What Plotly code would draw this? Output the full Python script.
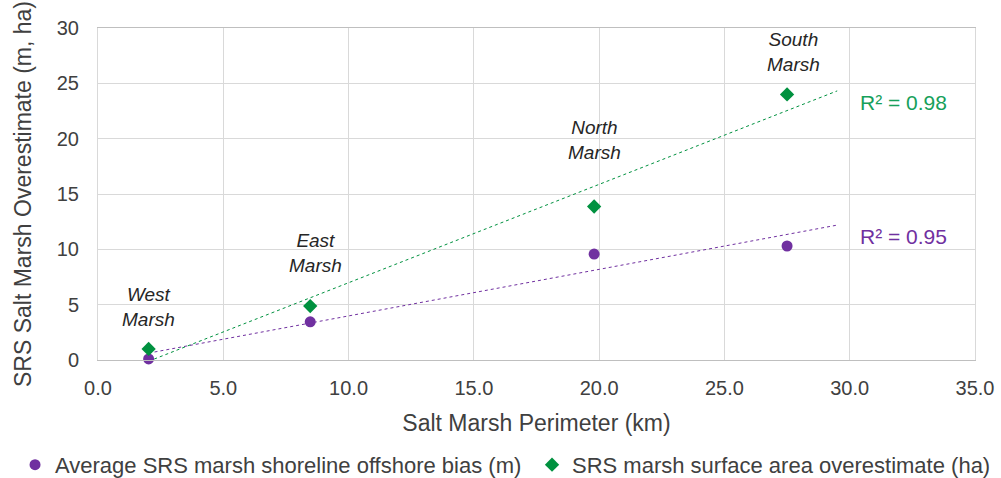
import numpy as np
import plotly.graph_objects as go

# Data
marsh_names = ["West<br>Marsh", "East<br>Marsh", "North<br>Marsh", "South<br>Marsh"]
perimeter_km = [2.02, 8.47, 19.8, 27.5]
shoreline_bias_m = [0.1, 3.45, 9.57, 10.3]
area_overestimate_ha = [1.0, 4.87, 13.87, 24.0]
r2_labels = ["R² = 0.95", "R² = 0.98"]
x_ticks = [0, 5, 10, 15, 20, 25, 30, 35]
y_ticks = [0, 5, 10, 15, 20, 25, 30]

PURPLE = "#7030A0"
GREEN = "#00913F"
GREEN_TXT = "#16A05A"
FONT = "Liberation Sans, Arial, sans-serif"
TXT = "#404040"

fig = go.Figure()

# trendlines (linear least squares, forward forecast to 29.5)
x_end = 29.5
for ys, col in [(shoreline_bias_m, PURPLE), (area_overestimate_ha, GREEN)]:
    m, b = np.polyfit(perimeter_km, ys, 1)
    xs = np.linspace(min(perimeter_km), x_end, 50)
    fig.add_trace(go.Scatter(x=xs, y=m * xs + b, mode="lines",
                             line=dict(color=col, width=1, dash="dot"),
                             showlegend=False, hoverinfo="skip", cliponaxis=True))

fig.add_trace(go.Scatter(x=perimeter_km, y=shoreline_bias_m, mode="markers",
                         name="Average SRS marsh shoreline offshore bias (m)",
                         marker=dict(symbol="circle", size=11, color=PURPLE),
                         cliponaxis=False, legend="legend"))
fig.add_trace(go.Scatter(x=perimeter_km, y=area_overestimate_ha, mode="markers",
                         name="SRS marsh surface area overestimate (ha)",
                         marker=dict(symbol="diamond", size=11, color=GREEN),
                         cliponaxis=False, legend="legend2"))

# marsh labels
label_y = [4.8, 9.7, 19.9, 27.8]
label_dx = [0, 5, 0, 6]
for name, x, y, dx in zip(marsh_names, perimeter_km, label_y, label_dx):
    fig.add_annotation(x=x, y=y, text=f"<i>{name}</i>", showarrow=False, xshift=dx,
                       font=dict(family=FONT, size=19, color="#262626"),
                       xanchor="center", yanchor="middle")

fig.add_annotation(x=30.35, y=11.2, text=r2_labels[0], showarrow=False, xanchor="left",
                   font=dict(family=FONT, size=21, color=PURPLE))
fig.add_annotation(x=30.35, y=23.3, text=r2_labels[1], showarrow=False, xanchor="left",
                   font=dict(family=FONT, size=21, color=GREEN_TXT))

leg_common = dict(orientation="h", y=-0.316, yanchor="middle", xanchor="left",
                  font=dict(family=FONT, size=22, color=TXT), itemwidth=30,
                  bgcolor="rgba(0,0,0,0)")

fig.update_layout(
    width=1001, height=478,
    margin=dict(l=98, r=26, t=28, b=118, autoexpand=False),
    paper_bgcolor="white", plot_bgcolor="white",
    font=dict(family=FONT, color=TXT),
    showlegend=True,
    legend=dict(x=-0.0946, **leg_common),
    legend2=dict(x=0.4949, **leg_common),
    xaxis=dict(range=[0, 35], tickvals=x_ticks, ticktext=[f"{v:.1f}" for v in x_ticks],
               showgrid=True, gridcolor="#D9D9D9", gridwidth=1,
               showline=True, linecolor="#BFBFBF", linewidth=1, mirror=True,
               zeroline=False, ticks="", ticklabelstandoff=10,
               tickfont=dict(size=20, color=TXT),
               title=dict(text="Salt Marsh Perimeter (km)", font=dict(size=23, color=TXT), standoff=16)),
    yaxis=dict(range=[0, 30], tickvals=y_ticks,
               showgrid=True, gridcolor="#D9D9D9", gridwidth=1,
               showline=True, linecolor="#D9D9D9", linewidth=1, mirror=True,
               zeroline=False, ticks="", ticklabelstandoff=14,
               tickfont=dict(size=20, color=TXT),
               title=dict(text="SRS Salt Marsh Overestimate (m, ha)", font=dict(size=23, color=TXT), standoff=18)),
)

fig.write_html("out.html", config={"displayModeBar": False},
               post_script="document.body.style.margin='0px';")
